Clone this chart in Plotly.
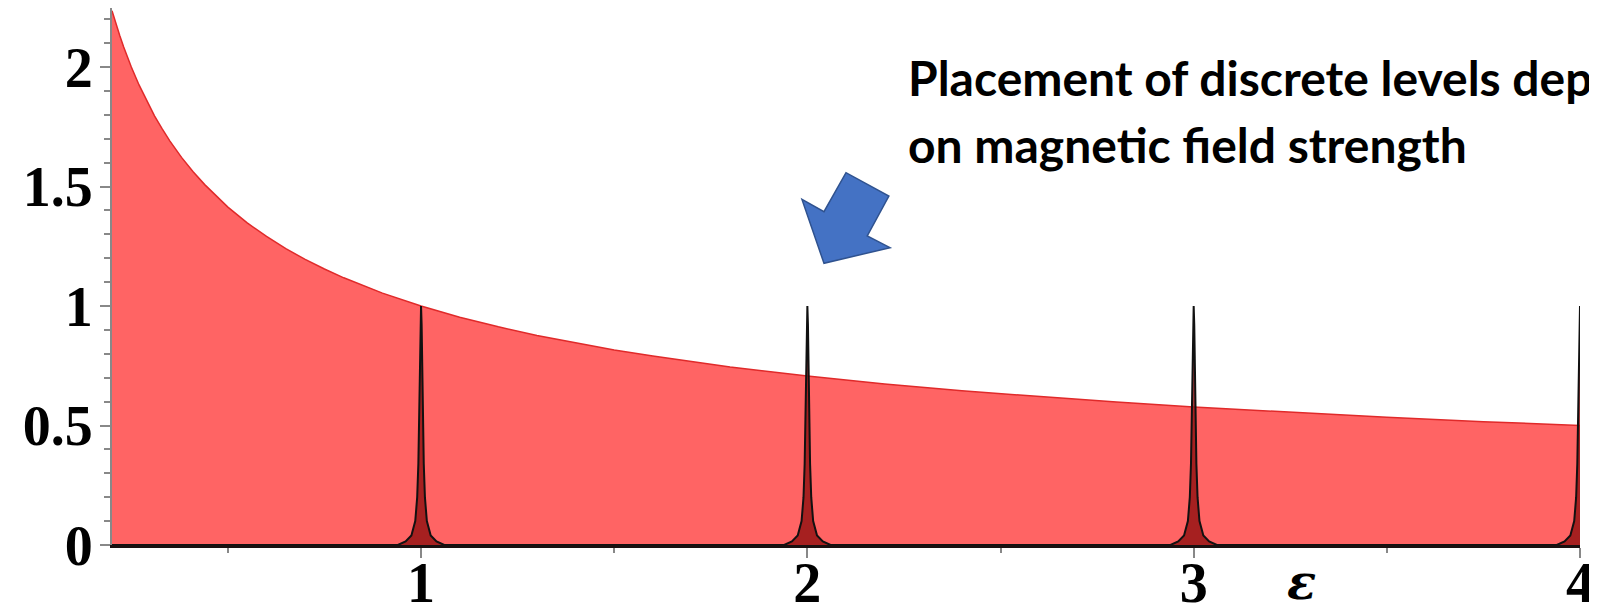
import plotly.graph_objects as go

# Continuum density of states (red curve)
curve_x = [0.2, 0.21, 0.22, 0.23, 0.24, 0.25, 0.27, 0.29, 0.31, 0.33, 0.35, 0.38, 0.41, 0.44,
           0.47, 0.5, 0.55, 0.6, 0.65, 0.7, 0.75, 0.8, 0.9, 1.0, 1.1, 1.2, 1.3, 1.4, 1.5, 1.6,
           1.8, 2.0, 2.2, 2.4, 2.6, 2.8, 3.0, 3.25, 3.5, 3.75, 4.0]
curve_y = [2.236, 2.182, 2.132, 2.085, 2.041, 2.0, 1.925, 1.857, 1.796, 1.741, 1.690, 1.622,
           1.562, 1.508, 1.459, 1.414, 1.348, 1.291, 1.240, 1.195, 1.155, 1.118, 1.054, 1.0,
           0.953, 0.913, 0.877, 0.845, 0.816, 0.791, 0.745, 0.707, 0.674, 0.645, 0.620, 0.598,
           0.577, 0.555, 0.535, 0.516, 0.5]

# Discrete levels (black peaks)
peak_centers = [1, 2, 3, 4]
peak_offsets = [0.06, 0.04, 0.025, 0.015, 0.01, 0.007, 0.005, 0.003, 0.0015, 0.0]
peak_heights = [0.0, 0.015, 0.04, 0.10, 0.2, 0.34, 0.5, 0.74, 0.92, 1.0]

x_ticks = [1, 2, 3, 4]
y_ticks = [0, 0.5, 1, 1.5, 2]
y_tick_labels = ["0", "0.5", "1", "1.5", "2"]

# Block arrow outline (data coordinates)
arrow_x = [2.043, 1.986, 2.043, 2.100, 2.211, 2.155, 2.214]
arrow_y = [1.179, 1.446, 1.395, 1.558, 1.460, 1.293, 1.244]

X_MIN, X_MAX = 0.2, 4.0
Y_MIN, Y_MAX = 0.0, 2.247

# build the peak trace
px, py = [X_MIN], [0.0]
for i, c in enumerate(peak_centers):
    for o, h in zip(peak_offsets, peak_heights):
        px.append(c - o)
        py.append(h)
    if i < len(peak_centers) - 1:
        for o, h in zip(reversed(peak_offsets[:-1]), reversed(peak_heights[:-1])):
            px.append(c + o)
            py.append(h)

fig = go.Figure()
fig.add_trace(go.Scatter(
    x=curve_x, y=curve_y, mode="lines", line=dict(color="#e02a2a", width=1.5),
    fill="tozeroy", fillcolor="#ff6464", hoverinfo="skip", showlegend=False))
fig.add_trace(go.Scatter(
    x=px, y=py, mode="lines", line=dict(color="#111111", width=2),
    fill="tozeroy", fillcolor="rgba(150,20,20,0.85)", hoverinfo="skip", showlegend=False))

path = "M " + " L ".join(f"{a},{b}" for a, b in zip(arrow_x, arrow_y)) + " Z"
fig.add_shape(type="path", path=path, xref="x", yref="y",
              fillcolor="#4472c4", line=dict(color="#2f528f", width=1.5))

tick_font = dict(family="Liberation Serif", size=56, color="black", weight="bold")

fig.update_xaxes(range=[X_MIN, X_MAX], tickvals=x_ticks, ticktext=[str(v) for v in x_ticks],
                 showline=True, linecolor="#1a1010", linewidth=2.5, ticks="outside",
                 ticklen=10, tickwidth=2, tickcolor="#888888", tickfont=tick_font,
                 showgrid=False, zeroline=False, ticklabelstandoff=-23, automargin=False,
                 minor=dict(tick0=0, dtick=0.5, ticklen=5, tickwidth=2, tickcolor="#888888",
                            ticks="outside"))
fig.update_yaxes(range=[Y_MIN, Y_MAX], tickvals=y_ticks, ticktext=y_tick_labels,
                 showline=True, linecolor="#888888", linewidth=2, ticks="outside",
                 ticklen=10, tickwidth=2, tickcolor="#888888", tickfont=tick_font,
                 showgrid=False, zeroline=False, ticklabelstandoff=-4, automargin=False,
                 minor=dict(tick0=0, dtick=0.1, ticklen=6, tickwidth=2, tickcolor="#888888",
                            ticks="outside"))

label_font = dict(family="Lato", size=48, color="black", weight="bold")
fig.add_annotation(text="Placement of discrete levels depends", xref="paper", yref="paper",
                   x=0.541, y=0.870, xanchor="left", yanchor="middle", showarrow=False,
                   font=label_font)
fig.add_annotation(text="on magnetic field strength", xref="paper", yref="paper",
                   x=0.541, y=0.745, xanchor="left", yanchor="middle", showarrow=False,
                   font=label_font)
fig.add_annotation(text="<i>ε</i>", xref="x", yref="paper", x=3.28, y=-0.069,
                   xanchor="center", yanchor="middle", showarrow=False,
                   font=dict(family="DejaVu Serif", size=48, color="black", weight="bold"))

# the page body adds an 8 px offset, so the figure is 8 px smaller than the window
fig.update_layout(width=1589, height=605, margin=dict(l=104, r=17, t=0, b=68),
                  plot_bgcolor="white", paper_bgcolor="white", showlegend=False)

fig.write_html("out.html")
